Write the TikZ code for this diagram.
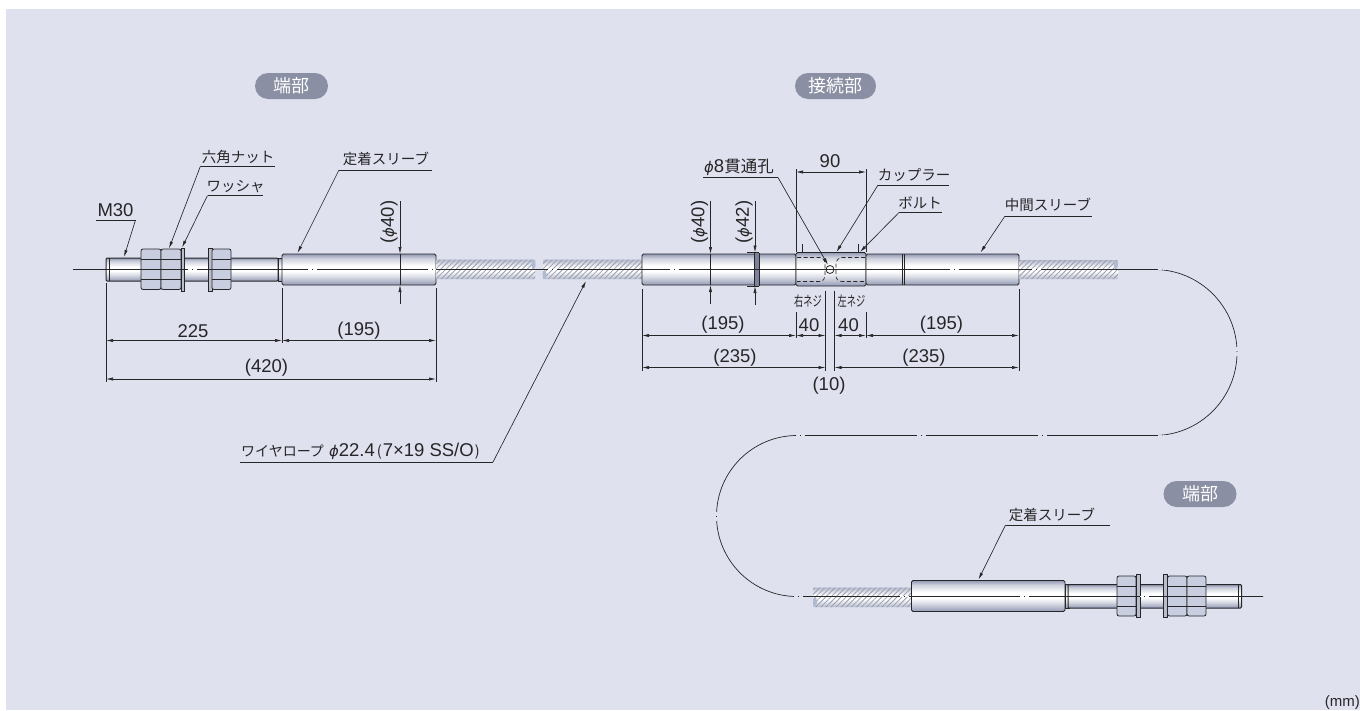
\documentclass[tikz,border=0pt]{standalone}
\usepackage{fontspec}
\setmainfont{Liberation Sans}
\newfontfamily\cjk{Noto Sans CJK JP}
\newfontfamily\phifont[Scale=0.8]{DejaVu Sans}
\newcommand{\dia}{{\phifont\itshape ϕ}}
\usetikzlibrary{arrows.meta,patterns.meta,positioning,calc}
\definecolor{panel}{HTML}{E0E1EE}
\definecolor{ink}{HTML}{262628}
\definecolor{metal}{HTML}{9299B4}
\definecolor{nutblue}{HTML}{C8CDDF}
\definecolor{ropeblue}{HTML}{B4BACD}
\definecolor{hatch}{HTML}{9A9EAE}
\definecolor{capblue}{HTML}{AEBBD2}
\definecolor{pillgray}{HTML}{8A8FA3}
\pgfdeclareverticalshading{metalshade}{100bp}{color(0bp)=(metal);color(25bp)=(metal);color(38bp)=(metal!35!white);color(47bp)=(white);color(56bp)=(white);color(68bp)=(metal!45!white);color(75bp)=(metal);color(100bp)=(metal)}
\pgfdeclareverticalshading{ropeshade}{100bp}{color(0bp)=(ropeblue);color(25bp)=(ropeblue);color(45bp)=(white);color(55bp)=(white);color(75bp)=(ropeblue);color(100bp)=(ropeblue)}
\tikzset{
  >={Latex[length=7pt,width=3.2pt]},
  partline/.style={draw=ink,line width=.8pt},
  sleeve/.style={partline,rounded corners=1.5pt,shading=metalshade},
  bolt/.style={partline,line width=1pt,rounded corners=1pt,shading=metalshade},
  nutbox/.style={partline,fill=nutblue,rounded corners=2pt},
  washer/.style={partline,fill=nutblue!80!gray},
  rope/.style={rounded corners=1pt,shading=ropeshade,
    postaction={pattern={Lines[angle=45,distance=3.6pt,line width=.8pt]},pattern color=hatch}},
  ropecap/.style={fill=capblue},
  thin line/.style={draw=ink,line width=.65pt},
  dim/.style={thin line,<->},
  leader/.style={thin line,->},
  cable/.style={draw=ink,line width=.7pt},
  gapmetal/.style={draw=white,line width=1.4pt,dash pattern=on 3.5pt off 1.5pt on 3.5pt off 50pt},
  gappanel/.style={draw=panel,line width=1.6pt,dash pattern=on 3.5pt off 1.5pt on 3.5pt off 50pt},
  jp/.style={font=\cjk\fontsize{14.5}{14.5}\selectfont,text=ink,inner sep=0pt},
  num/.style={font=\fontsize{18.5}{18.5}\selectfont,text=ink,inner sep=0pt},
  small jp/.style={font=\cjk\fontsize{14}{14}\selectfont,text=ink,inner sep=0pt,xscale=.66},
  pill/.style={fill=pillgray,text=white,rounded corners=13pt,minimum height=26pt,inner sep=0pt,
    font=\cjk\fontsize{18}{18}\selectfont}
}
\begin{document}
\begin{tikzpicture}[x=1pt,y=-1pt]
      \useasboundingbox (0,0) rectangle (1360,710);
      \fill[white] (0,0) rectangle (1360,710);
      \fill[panel] (6,9) rectangle (1360,710);

      % left end
      \path[bolt] (106,258) rectangle (278,281);
      \draw[partline] (109,258) -- (109,281);
      \path[bolt,rounded corners=0pt] (278,258) rectangle (283,281);
      \path[nutbox] (141,249) rectangle (161,289.5);
      \path[nutbox] (161,249) rectangle (181,289.5);
      \path[washer] (181,248) rectangle (184,291);
      \path[washer] (208,248) rectangle (212,291);
      \path[nutbox] (212,249) rectangle (231,289.5);
      \draw[partline] (141,259) -- (181,259) (141,279.5) -- (181,279.5) (212,259) -- (231,259) (212,279.5) -- (231,279.5);
      \path[sleeve] (282,254) rectangle (436,285);
      \path[rope] (436,259.5) rectangle (535,279);
      \path[rope] (543,259.5) rectangle (642,279);
      \fill[ropecap] (533.5,264.5) ellipse[x radius=2,y radius=5];
      \fill[ropecap] (544.5,274.5) ellipse[x radius=2,y radius=4.5];

      % joint
      \path[sleeve] (642,254) rectangle (796,285);
      \draw[partline] (747,252.5) -- (759,252.5) (747,286) -- (759,286);
      \fill[metal!85!black] (754.5,253) rectangle (759,285.5);
      \draw[partline] (754.5,253) -- (754.5,285.5) (759,253) -- (759,285.5);
      \path[sleeve] (796,252.5) rectangle (866,286);
      \path[sleeve] (866,254) rectangle (1019,285);
      \draw[partline] (902,254) -- (902,285) (904.5,254) -- (904.5,285);
      \draw[thin line,dashed,dash pattern=on 4pt off 2.5pt] (797,257.5) -- (820,257.5) to[out=0,in=90] (825,264) -- (825,276) to[out=-90,in=0] (820,281.5) -- (797,281.5);
      \draw[thin line,dashed,dash pattern=on 4pt off 2.5pt] (865,257.5) -- (842,257.5) to[out=180,in=90] (836,264) -- (836,276) to[out=-90,in=180] (842,281.5) -- (865,281.5);
      \path[rope] (1019,260) rectangle (1118,279);
      \fill[ropecap] (1116,265) ellipse[x radius=2,y radius=4.5];

      % right end
      \path[rope] (813,587.5) rectangle (912,607);
      \fill[ropecap] (815,601.5) ellipse[x radius=2,y radius=4.5];
      \path[sleeve] (911.5,580.5) rectangle (1065,611.5);
      \path[bolt,rounded corners=0pt] (1065,584.5) rectangle (1069,608);
      \path[bolt] (1068,584.5) rectangle (1241.5,608);
      \draw[partline] (1238.5,584.5) -- (1238.5,608);
      \path[nutbox] (1117,576) rectangle (1136,616);
      \path[washer] (1136,574.5) rectangle (1140,617.5);
      \path[washer] (1163.5,574.5) rectangle (1167.5,617.5);
      \path[nutbox] (1167.5,576) rectangle (1187,616);
      \path[nutbox] (1187,576) rectangle (1206,616);
      \draw[partline] (1117,586) -- (1136,586) (1117,606.5) -- (1136,606.5) (1167.5,586) -- (1206,586) (1167.5,606.5) -- (1206,606.5);

      % hole
      \node[circle,draw=ink,fill=white,line width=.8pt,minimum size=8pt,inner sep=0pt] (hole) at (830,269.5) {};

      % cable
      \coordinate (capL) at (73,269.5);
      \coordinate (capR) at (1263,596.5);
      \draw[cable] (capL) -- (1154,269.5) arc[start angle=-90,end angle=90,radius=83] -- (797,435.5) arc[start angle=-90,end angle=-270,radius=80.5] -- (capR);

      % centre line gaps
      \draw[gapmetal] (188,269.5) -- (196.5,269.5);
      \draw[gapmetal] (308,269.5) -- (316.5,269.5);
      \draw[gapmetal] (428,269.5) -- (436,269.5);
      \draw[gapmetal] (548,269.5) -- (556.5,269.5);
      \draw[gapmetal] (670,269.5) -- (678.5,269.5);
      \draw[gapmetal] (950,269.5) -- (958.5,269.5);
      \draw[gapmetal] (1032,269.5) -- (1040.5,269.5);
      \draw[gapmetal] (900,596.5) -- (908.5,596.5);
      \draw[gapmetal] (1020,596.5) -- (1028.5,596.5);
      \draw[gapmetal] (1140,596.5) -- (1148.5,596.5);
      \draw[gappanel] (1158,269.5) -- (1166.5,269.5);
      \draw[gappanel] (1237,347) -- (1237,355.5);
      \draw[gappanel] (1158,435.5) -- (1166.5,435.5);
      \draw[gappanel] (1038,435.5) -- (1046.5,435.5);
      \draw[gappanel] (917,435.5) -- (925.5,435.5);
      \draw[gappanel] (796,435.5) -- (804.5,435.5);
      \draw[gappanel] (716.5,512) -- (716.5,520.5);
      \draw[gappanel] (794,596.5) -- (802.5,596.5);

      % titles
      \node[pill,minimum width=73pt] (endA) at (291.5,86) {端部};
      \node[pill,minimum width=81pt] (joint) at (835.5,86) {接続部};
      \node[pill,minimum width=73pt] (endB) at (1200,494) {端部};

      % leaders
      \node[num] (mThirty) at (115.5,210) {M30};
      \node[jp] (hexnut) at (238,157) {六角ナット};
      \node[jp] (washertxt) at (235.5,186.5) {ワッシャ};
      \node[jp] (sleeveA) at (386,159) {定着スリーブ};
      \node[num] (wiretxt) [anchor=west] at (241,451.5) {{\cjk\fontsize{14}{14}\selectfont ワイヤロープ} \dia 22.4\hspace{2pt}{\cjk\fontsize{14.5}{14.5}\selectfont (}\hspace{1pt}7×19 SS/O\hspace{1pt}{\cjk\fontsize{14.5}{14.5}\selectfont )}};
      \node[jp] (holetxt) at (739,167) {{\fontsize{18.5}{18.5}\selectfont\dia\rmfamily 8}{\fontsize{16.5}{16.5}\selectfont 貫通孔}};
      \node[jp] (coupler) at (914,175) {カップラー};
      \node[jp] (bolttxt) at (920,202.5) {ボルト};
      \node[jp] (sleeveM) at (1048,205) {中間スリーブ};
      \node[jp] (sleeveB) at (1052,515) {定着スリーブ};

      \coordinate (m1) at (96,220);    \coordinate (m2) at (135.5,220);  \coordinate (m3) at (124,257);
      \coordinate (n1) at (275,166);   \coordinate (n2) at (200.5,166);  \coordinate (n3) at (169,248.5);
      \coordinate (w1) at (262.5,195.5); \coordinate (w2) at (207.5,195.5); \coordinate (w3) at (182,247.5);
      \coordinate (s1) at (431.5,170); \coordinate (s2) at (339,170);    \coordinate (s3) at (297.5,253);
      \coordinate (r1) at (240,462);   \coordinate (r2) at (493,462);    \coordinate (r3) at (586,281);
      \coordinate (h1) at (703,177.5); \coordinate (h2) at (778,177.5);  \coordinate (h3) at (828,265);
      \coordinate (c1) at (949,185);   \coordinate (c2) at (878,185);    \coordinate (c3) at (836.5,252);
      \coordinate (b1) at (941.5,212.5); \coordinate (b2) at (899,212.5); \coordinate (b3) at (860,252);
      \coordinate (t1) at (1091.5,216); \coordinate (t2) at (1005,216);  \coordinate (t3) at (980.5,252.5);
      \coordinate (e1) at (1110,525);  \coordinate (e2) at (1005.5,525); \coordinate (e3) at (978.5,579.5);

      \draw[thin line] (m1) -- (m2);
      \draw[leader] (m2) -- (m3);
      \draw[thin line] (n1) -- (n2);
      \draw[leader] (n2) -- (n3);
      \draw[thin line] (w1) -- (w2);
      \draw[leader] (w2) -- (w3);
      \draw[thin line] (s1) -- (s2);
      \draw[leader] (s2) -- (s3);
      \draw[thin line] (r1) -- (r2);
      \draw[leader] (r2) -- (r3);
      \draw[thin line] (h1) -- (h2);
      \draw[leader] (h2) -- (h3);
      \draw[thin line] (c1) -- (c2);
      \draw[leader] (c2) -- (c3);
      \draw[thin line] (b1) -- (b2);
      \draw[leader] (b2) -- (b3);
      \draw[thin line] (t1) -- (t2);
      \draw[leader] (t2) -- (t3);
      \draw[thin line] (e1) -- (e2);
      \draw[leader] (e2) -- (e3);

      % extension lines, left
      \draw[thin line] (106,283) -- (106,381.5);
      \draw[thin line] (282,288) -- (282,343);
      \draw[thin line] (436,288) -- (436,381.5);
      \coordinate (d1) at (106,340.5); \coordinate (d2) at (282,340.5); \coordinate (d3) at (436,340.5);
      \coordinate (d4) at (106,379);   \coordinate (d5) at (436,379);
      \draw[dim] (d1) -- (d2);
      \draw[dim] (d2) -- (d3);
      \draw[dim] (d4) -- (d5);
      \node[num] (lenA) at (193,331) {225};
      \node[num] (lenB) at (359,331) {(195)};
      \node[num] (lenC) at (266.5,368) {(420)};

      % diameter, left
      \coordinate (p1) at (400,201); \coordinate (p2) at (400,254); \coordinate (p3) at (400,285); \coordinate (p4) at (400,304);
      \draw[->,thin line] (p1) -- (p2);
      \draw[thin line] (p2) -- (p3);
      \draw[->,thin line] (p4) -- (p3);
      \node[num,rotate=90] (diaA) at (389,222) {(\dia 40)};

      % diameters, joint
      \coordinate (q1) at (710.5,201); \coordinate (q2) at (710.5,254); \coordinate (q3) at (710.5,285); \coordinate (q4) at (710.5,304);
      \coordinate (u1) at (755,201);   \coordinate (u2) at (755,252.5); \coordinate (u3) at (755,286);   \coordinate (u4) at (755,305);
      \draw[->,thin line] (q1) -- (q2);
      \draw[thin line] (q2) -- (q3);
      \draw[->,thin line] (q4) -- (q3);
      \draw[->,thin line] (u1) -- (u2);
      \draw[->,thin line] (u4) -- (u3);
      \node[num,rotate=90] (diaB) at (699.5,222) {(\dia 40)};
      \node[num,rotate=90] (diaC) at (744,222) {(\dia 42)};

      % extension lines, joint
      \draw[thin line] (642,289) -- (642,370.5);
      \draw[thin line] (796,169) -- (796,252);
      \draw[thin line] (866,169) -- (866,252);
      \draw[thin line] (802.5,244) -- (802.5,252);
      \draw[thin line] (858.5,244) -- (858.5,252);
      \draw[thin line] (796,312) -- (796,338);
      \draw[thin line] (866,312) -- (866,338);
      \draw[thin line] (825.5,290.5) -- (825.5,370.5);
      \draw[thin line] (834.5,290.5) -- (834.5,370.5);
      \draw[thin line] (1019,289) -- (1019,370.5);

      \coordinate (k1) at (796,172);   \coordinate (k2) at (866,172);
      \coordinate (f1) at (642,335.5); \coordinate (f2) at (796,335.5); \coordinate (f3) at (825.5,335.5);
      \coordinate (f4) at (834.5,335.5); \coordinate (f5) at (866,335.5); \coordinate (f6) at (1019,335.5);
      \coordinate (g1) at (642,367.5); \coordinate (g2) at (825.5,367.5);
      \coordinate (g3) at (834.5,367.5); \coordinate (g4) at (1019,367.5);
      \draw[dim] (k1) -- (k2);
      \draw[dim] (f1) -- (f2);
      \draw[dim] (f2) -- (f3);
      \draw[dim] (f4) -- (f5);
      \draw[dim] (f5) -- (f6);
      \draw[dim] (g1) -- (g2);
      \draw[dim] (g3) -- (g4);
      \node[num] (span) at (830,161.5) {90};
      \node[num] (lenD) at (723,324.5) {(195)};
      \node[num] (lenE) at (809,325) {40};
      \node[num] (lenF) at (848.5,325) {40};
      \node[num] (lenG) at (941.5,325) {(195)};
      \node[num] (lenH) at (735,357.5) {(235)};
      \node[num] (lenI) at (924,357.5) {(235)};
      \node[num] (lenJ) at (829,386) {(10)};
      \node[small jp] (rightthread) at (808,301) {右ネジ};
      \node[small jp] (leftthread) at (851.5,301) {左ネジ};

      \node[num,font=\fontsize{15}{15}\selectfont,anchor=east] (unit) at (1360,703) {(mm)};
\end{tikzpicture}
\end{document}
